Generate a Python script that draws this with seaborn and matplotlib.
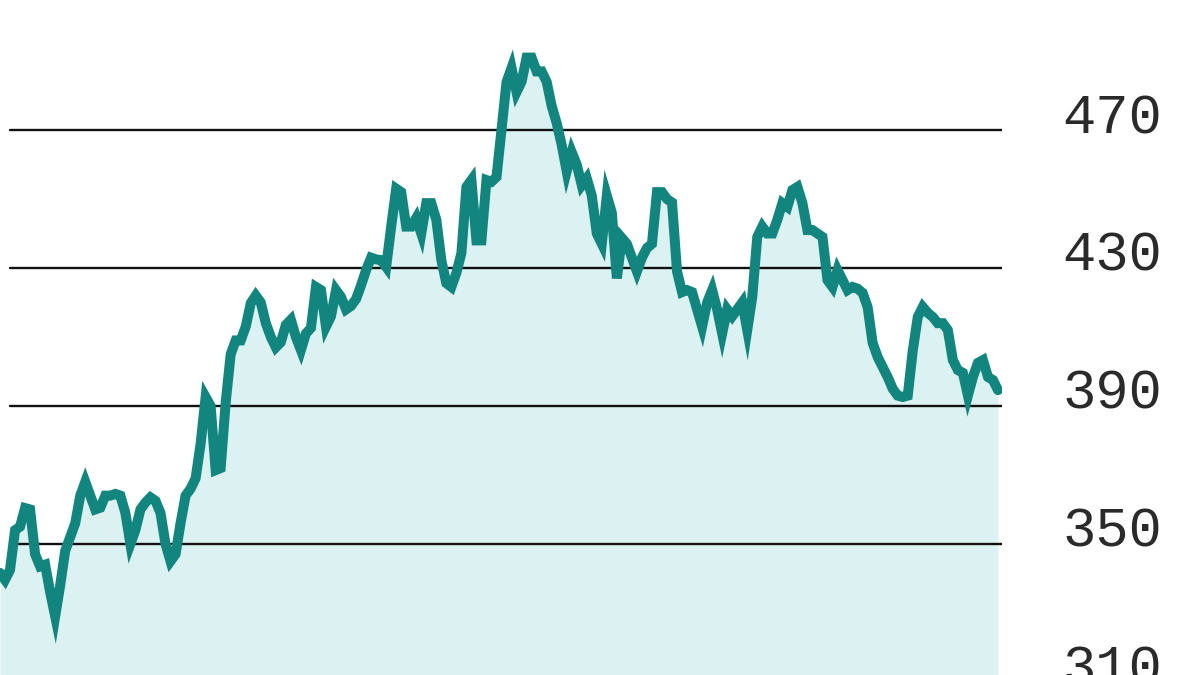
import numpy as np
import pandas as pd
import matplotlib
matplotlib.use("Agg")
import matplotlib.pyplot as plt
import matplotlib.transforms as mtransforms
import seaborn as sns

# price series (one value every few trading days)
prices = [
    341.6, 339.6, 342.5, 354.0, 355.0, 360.4, 360.0, 347.0, 343.5, 344.0,
    336.0, 329.0, 338.0, 348.0, 352.0, 356.0, 364.0, 368.0, 364.0, 360.0,
    360.5, 364.0, 364.0, 364.5, 364.0, 359.0, 350.0, 354.0, 360.0, 362.0,
    363.5, 362.5, 359.0, 350.0, 345.0, 347.0, 356.0, 364.0, 366.0, 369.0,
    379.0, 392.6, 390.0, 371.4, 372.0, 391.0, 405.0, 409.0, 409.0, 413.0,
    419.8, 422.0, 420.0, 414.0, 410.0, 407.0, 408.5, 413.5, 415.0, 410.0,
    406.2, 411.0, 412.6, 424.5, 423.6, 413.0, 416.0, 423.6, 421.6, 418.0,
    419.0, 421.0, 425.0, 429.4, 433.0, 432.5, 432.3, 430.3, 442.0, 453.0,
    452.0, 442.0, 442.0, 444.5, 440.0, 448.8, 448.8, 444.0, 432.3, 425.6,
    424.5, 428.6, 434.3, 453.5, 455.5, 438.0, 438.0, 455.5, 455.0, 456.4,
    470.0, 483.9, 488.0, 481.0, 484.0, 491.0, 491.0, 487.0, 487.0, 484.0,
    477.0, 472.0, 465.7, 458.0, 463.6, 460.0, 454.0, 456.0, 451.0, 440.0,
    437.0, 451.0, 446.0, 427.0, 438.7, 437.0, 433.0, 429.0, 433.0, 435.8,
    437.0, 452.0, 452.0, 450.0, 449.0, 429.0, 423.0, 423.6, 423.0, 418.0,
    413.0, 420.0, 423.6, 418.0, 411.0, 418.0, 416.0, 418.0, 420.0, 412.0,
    421.6, 439.0, 442.0, 440.0, 440.0, 444.0, 448.8, 447.7, 452.6, 453.5,
    448.8, 441.0, 441.0, 440.0, 439.0, 426.5, 424.5, 429.4, 426.5, 423.6,
    424.5, 424.0, 422.8, 418.7, 408.3, 404.2, 401.3, 398.4, 395.0, 393.0,
    392.6, 393.0, 406.0, 415.8, 418.7, 417.0, 415.8, 414.0, 414.0, 412.0,
    403.3, 400.4, 399.6, 393.0, 398.4, 402.5, 403.3, 398.4, 397.5, 394.6,
]
y_ticks = [310, 350, 390, 430, 470]
y_tick_labels = ["310", "350", "390", "430", "470"]

line_color = "#13857f"
fill_color = "#dcf1f1"

df = pd.DataFrame({"day": np.arange(len(prices)), "price": prices})

sns.set_style("white")
fig = plt.figure(figsize=(12, 6.75), dpi=100)
ax = fig.add_axes([0, 0, 1002 / 1200, 1])

y_min, y_max = 312.0, 507.7
ax.fill_between(df["day"], df["price"], y_min, color=fill_color, lw=0, zorder=1)

# horizontal gridlines
for v in y_ticks:
    ax.axhline(v, xmin=10 / 1002, xmax=1.0, color="#111111", lw=1.7, zorder=2)

sns.lineplot(data=df, x="day", y="price", ax=ax, color=line_color,
             lw=7.2, zorder=3, solid_joinstyle="miter")

n = len(prices)
ax.set_xlim(0, (n - 1) * 1002 / 998)
ax.set_ylim(y_min, y_max)
ax.set_xticks([])
ax.set_yticks([])
ax.set_xlabel("")
ax.set_ylabel("")
for s in ax.spines.values():
    s.set_visible(False)

# labels on the right, sitting on their gridlines
trans = mtransforms.blended_transform_factory(ax.transAxes, ax.transData)
offset = mtransforms.ScaledTranslation(0, -3 / 100, fig.dpi_scale_trans)
for v, lab in zip(y_ticks, y_tick_labels):
    ax.text(1062 / 1002, v, lab, transform=trans + offset, ha="left",
            va="baseline", fontsize=40, family="Liberation Mono",
            color="#2a2a2a", clip_on=False)

fig.savefig("out.png", dpi=100)
